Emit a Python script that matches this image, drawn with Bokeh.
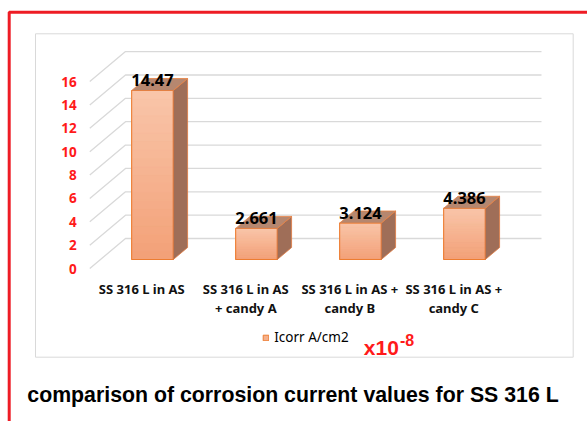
from bokeh.plotting import figure
from bokeh.models import Range1d, BoxAnnotation, Label, Legend, LegendItem
from bokeh.core.properties import value
from bokeh.embed import file_html
from bokeh.resources import INLINE

# ---- data ----
categories = ["SS 316 L in AS", "SS 316 L in AS\n+ candy A",
              "SS 316 L in AS +\ncandy B", "SS 316 L in AS +\ncandy C"]
icorr = [14.47, 2.661, 3.124, 4.386]
value_labels = ["14.47", "2.661", "3.124", "4.386"]
y_ticks = [0, 2, 4, 6, 8, 10, 12, 14, 16]
series_name = "Icorr A/cm2"
scale_text = "x10"
scale_exp = "-8"
title_text = "comparison of corrosion current values for SS 316 L"

# ---- geometry (pixels -> data) ----
W, H = 587, 421
PX_X = 104.0
PX_Y = 11.68
X0 = 152.0
Y0 = 268.0
DEPTH_X = 35.7 / PX_X
DEPTH_Y = 30.0 / PX_Y
D_FRONT, D_BACK = 0.3, 0.7
BAR_W = 0.4
n = len(categories)


def px(x, d):
    return x + (d - D_FRONT) * DEPTH_X


def py(y, d):
    return y + d * DEPTH_Y


p = figure(width=W, height=H, output_backend="svg", toolbar_location=None,
           x_range=Range1d(-X0 / PX_X, (W - X0) / PX_X),
           y_range=Range1d(-(H - Y0) / PX_Y, Y0 / PX_Y),
           x_axis_location=None, y_axis_location=None, min_border=0)
p.outline_line_color = None
p.xgrid.visible = False
p.ygrid.visible = False
p.background_fill_color = "white"
p.border_fill_color = "white"

# ---- 3D gridlines (side wall diagonal + back wall) ----
xl, xr = -0.5, n - 0.5
gx, gy = [], []
for t in y_ticks:
    gx.append([px(xl, 0), px(xl, 1), px(xr, 1)])
    gy.append([py(t, 0), py(t, 1), py(t, 1)])
p.multi_line(gx, gy, line_color="#d9d9d9", line_width=1.3)

# y tick labels (front plane)
p.text(x=[px(xl, 0)] * len(y_ticks), y=y_ticks, text=[str(t) for t in y_ticks],
       x_offset=-13, text_align="right", text_baseline="middle",
       text_color="#ff1a1a", text_font=value("Noto Sans"),
       text_font_style="bold", text_font_size="13.5px")

# ---- bars ----
lefts = [i - BAR_W / 2 for i in range(n)]
rights = [i + BAR_W / 2 for i in range(n)]

base = p.quad(left=lefts, right=rights, bottom=[py(0, D_FRONT)] * n,
              top=[py(v, D_FRONT) for v in icorr],
              fill_color="#f5b08c", line_color="#ed7d31", line_width=1)

# gradient bands on the front face
c_bot = (243, 160, 119)
c_top = (249, 198, 170)
N = 20
bl, br, bb, bt, bc = [], [], [], [], []
for i, v in enumerate(icorr):
    for k in range(N):
        f = (k + 0.5) / N
        col = tuple(int(round(c_bot[j] + (c_top[j] - c_bot[j]) * f)) for j in range(3))
        bl.append(lefts[i]); br.append(rights[i])
        bb.append(py(v * k / N, D_FRONT)); bt.append(py(v * (k + 1) / N, D_FRONT))
        bc.append("#%02x%02x%02x" % col)
p.quad(left=bl, right=br, bottom=bb, top=bt, fill_color=bc, line_color=bc, line_width=0.6)
p.quad(left=lefts, right=rights, bottom=[py(0, D_FRONT)] * n,
       top=[py(v, D_FRONT) for v in icorr],
       fill_alpha=0, line_color="#ed7d31", line_width=1)

# top and side faces
txs, tys, sxs, sys_ = [], [], [], []
for i, v in enumerate(icorr):
    l, r = lefts[i], rights[i]
    txs.append([px(l, D_FRONT), px(r, D_FRONT), px(r, D_BACK), px(l, D_BACK)])
    tys.append([py(v, D_FRONT), py(v, D_FRONT), py(v, D_BACK), py(v, D_BACK)])
    sxs.append([px(r, D_FRONT), px(r, D_FRONT), px(r, D_BACK), px(r, D_BACK)])
    sys_.append([py(0, D_FRONT), py(v, D_FRONT), py(v, D_BACK), py(0, D_BACK)])
p.patches(sxs, sys_, fill_color="#9f6e58", line_color="#e07a40", line_width=0.8)
p.patches(txs, tys, fill_color="#b6876f", line_color="#e98040", line_width=0.8)

# value labels
p.text(x=list(range(n)), y=[py(v, D_BACK) for v in icorr], text=value_labels,
       y_offset=2, text_align="center", text_baseline="alphabetic",
       text_color="black", text_font=value("Noto Sans"),
       text_font_style="bold", text_font_size="16.5px")

# category labels (front plane)
p.text(x=[px(i, 0) for i in range(n)], y=[0] * n, text=categories,
       y_offset=11, text_align="center", text_baseline="top",
       text_line_height=1.1, text_color="#111111", text_font=value("Noto Sans"),
       text_font_style="bold", text_font_size="13px")

# ---- legend ----
legend = Legend(items=[LegendItem(label=series_name, renderers=[base])],
                location=(262.3, 75), padding=0, margin=0, spacing=0,
                glyph_width=7, glyph_height=7, label_standoff=5, label_height=7,
                border_line_color=None, background_fill_alpha=0,
                label_text_font="Noto Sans", label_text_font_size="13.5px",
                label_text_color="black")
p.add_layout(legend)

p.add_layout(Label(x=363.3, y=74.3, x_units="screen", y_units="screen", text=scale_text,
                   text_font="Liberation Sans", text_font_style="bold",
                   text_font_size="21px", text_color="#ff1a1a", text_baseline="alphabetic"))
p.add_layout(Label(x=399.5, y=81.7, x_units="screen", y_units="screen", text=scale_exp,
                   text_font="Liberation Sans", text_font_style="bold",
                   text_font_size="16px", text_color="#ff1a1a", text_baseline="alphabetic"))

# title
p.add_layout(Label(x=292.5, y=26.5, x_units="screen", y_units="screen", text=title_text,
                   text_font="Liberation Sans", text_font_style="bold",
                   text_font_size="21.3px", text_color="black",
                   text_align="center", text_baseline="middle"))

# frames
p.add_layout(BoxAnnotation(left=35, right=572.7, top=387.7, bottom=64.3,
                           left_units="screen", right_units="screen",
                           top_units="screen", bottom_units="screen",
                           fill_alpha=0, line_alpha=1, line_color="#d9d9d9", line_width=1))
p.add_layout(BoxAnnotation(left=8.7, right=3000, top=409.3, bottom=-3000,
                           left_units="screen", right_units="screen",
                           top_units="screen", bottom_units="screen",
                           fill_alpha=0, line_alpha=1, line_color="#ee1c25", line_width=3))

open("out.html", "w").write(file_html(p, INLINE))
